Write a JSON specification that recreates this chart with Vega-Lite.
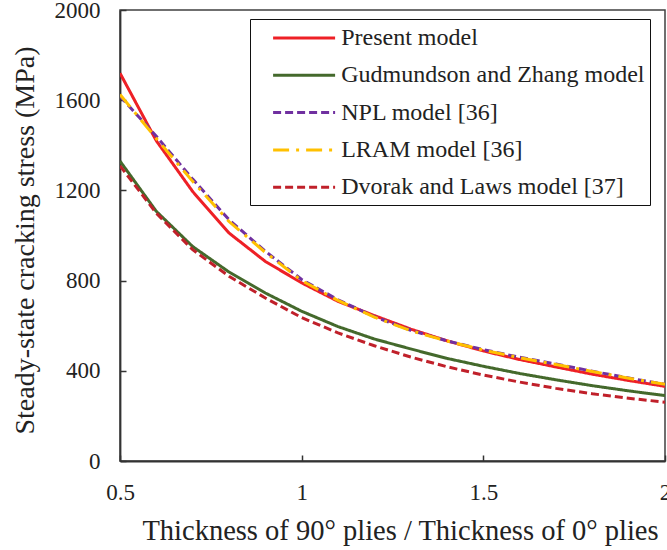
{
  "$schema": "https://vega.github.io/schema/vega-lite/v6.json",
  "width": 545,
  "height": 451,
  "autosize": {"type": "none"},
  "padding": {"left": 120, "top": 10, "right": 2, "bottom": 89},
  "background": "white",
  "config": {
    "font": "Liberation Serif",
    "view": {"stroke": "#404040", "strokeWidth": 1.5},
    "axis": {"grid": false, "domainColor": "#333333", "domainWidth": 1.8, "tickColor": "#333333", "tickWidth": 1.5, "labelColor": "#222222", "titleColor": "#222222", "labelFont": "Liberation Serif", "titleFont": "Liberation Serif", "titleFontWeight": "normal"}
  },
  "data": {
    "values": [
      {"x": 0.5, "y": 1720, "model": "Present model"},
      {"x": 0.6, "y": 1420, "model": "Present model"},
      {"x": 0.7, "y": 1195, "model": "Present model"},
      {"x": 0.8, "y": 1011, "model": "Present model"},
      {"x": 0.9, "y": 885, "model": "Present model"},
      {"x": 1.0, "y": 790, "model": "Present model"},
      {"x": 1.1, "y": 708, "model": "Present model"},
      {"x": 1.2, "y": 645, "model": "Present model"},
      {"x": 1.3, "y": 585, "model": "Present model"},
      {"x": 1.4, "y": 533, "model": "Present model"},
      {"x": 1.5, "y": 488, "model": "Present model"},
      {"x": 1.6, "y": 450, "model": "Present model"},
      {"x": 1.7, "y": 417, "model": "Present model"},
      {"x": 1.8, "y": 385, "model": "Present model"},
      {"x": 1.9, "y": 357, "model": "Present model"},
      {"x": 2.0, "y": 331, "model": "Present model"},

      {"x": 0.5, "y": 1330, "model": "Gudmundson and Zhang model"},
      {"x": 0.6, "y": 1107, "model": "Gudmundson and Zhang model"},
      {"x": 0.7, "y": 951, "model": "Gudmundson and Zhang model"},
      {"x": 0.8, "y": 838, "model": "Gudmundson and Zhang model"},
      {"x": 0.9, "y": 745, "model": "Gudmundson and Zhang model"},
      {"x": 1.0, "y": 664, "model": "Gudmundson and Zhang model"},
      {"x": 1.1, "y": 596, "model": "Gudmundson and Zhang model"},
      {"x": 1.2, "y": 541, "model": "Gudmundson and Zhang model"},
      {"x": 1.3, "y": 497, "model": "Gudmundson and Zhang model"},
      {"x": 1.4, "y": 455, "model": "Gudmundson and Zhang model"},
      {"x": 1.5, "y": 420, "model": "Gudmundson and Zhang model"},
      {"x": 1.6, "y": 388, "model": "Gudmundson and Zhang model"},
      {"x": 1.7, "y": 360, "model": "Gudmundson and Zhang model"},
      {"x": 1.8, "y": 334, "model": "Gudmundson and Zhang model"},
      {"x": 1.9, "y": 311, "model": "Gudmundson and Zhang model"},
      {"x": 2.0, "y": 290, "model": "Gudmundson and Zhang model"},

      {"x": 0.5, "y": 1618, "model": "NPL model [36]"},
      {"x": 0.6, "y": 1440, "model": "NPL model [36]"},
      {"x": 0.7, "y": 1250, "model": "NPL model [36]"},
      {"x": 0.8, "y": 1070, "model": "NPL model [36]"},
      {"x": 0.9, "y": 930, "model": "NPL model [36]"},
      {"x": 1.0, "y": 805, "model": "NPL model [36]"},
      {"x": 1.1, "y": 715, "model": "NPL model [36]"},
      {"x": 1.2, "y": 640, "model": "NPL model [36]"},
      {"x": 1.3, "y": 580, "model": "NPL model [36]"},
      {"x": 1.4, "y": 533, "model": "NPL model [36]"},
      {"x": 1.5, "y": 494, "model": "NPL model [36]"},
      {"x": 1.6, "y": 460, "model": "NPL model [36]"},
      {"x": 1.7, "y": 430, "model": "NPL model [36]"},
      {"x": 1.8, "y": 398, "model": "NPL model [36]"},
      {"x": 1.9, "y": 368, "model": "NPL model [36]"},
      {"x": 2.0, "y": 340, "model": "NPL model [36]"},

      {"x": 0.5, "y": 1625, "model": "LRAM model [36]"},
      {"x": 0.6, "y": 1430, "model": "LRAM model [36]"},
      {"x": 0.7, "y": 1240, "model": "LRAM model [36]"},
      {"x": 0.8, "y": 1062, "model": "LRAM model [36]"},
      {"x": 0.9, "y": 925, "model": "LRAM model [36]"},
      {"x": 1.0, "y": 800, "model": "LRAM model [36]"},
      {"x": 1.1, "y": 712, "model": "LRAM model [36]"},
      {"x": 1.2, "y": 638, "model": "LRAM model [36]"},
      {"x": 1.3, "y": 578, "model": "LRAM model [36]"},
      {"x": 1.4, "y": 532, "model": "LRAM model [36]"},
      {"x": 1.5, "y": 492, "model": "LRAM model [36]"},
      {"x": 1.6, "y": 458, "model": "LRAM model [36]"},
      {"x": 1.7, "y": 428, "model": "LRAM model [36]"},
      {"x": 1.8, "y": 397, "model": "LRAM model [36]"},
      {"x": 1.9, "y": 367, "model": "LRAM model [36]"},
      {"x": 2.0, "y": 340, "model": "LRAM model [36]"},

      {"x": 0.5, "y": 1309, "model": "Dvorak and Laws model [37]"},
      {"x": 0.6, "y": 1099, "model": "Dvorak and Laws model [37]"},
      {"x": 0.7, "y": 937, "model": "Dvorak and Laws model [37]"},
      {"x": 0.8, "y": 819, "model": "Dvorak and Laws model [37]"},
      {"x": 0.9, "y": 723, "model": "Dvorak and Laws model [37]"},
      {"x": 1.0, "y": 636, "model": "Dvorak and Laws model [37]"},
      {"x": 1.1, "y": 568, "model": "Dvorak and Laws model [37]"},
      {"x": 1.2, "y": 511, "model": "Dvorak and Laws model [37]"},
      {"x": 1.3, "y": 461, "model": "Dvorak and Laws model [37]"},
      {"x": 1.4, "y": 418, "model": "Dvorak and Laws model [37]"},
      {"x": 1.5, "y": 381, "model": "Dvorak and Laws model [37]"},
      {"x": 1.6, "y": 350, "model": "Dvorak and Laws model [37]"},
      {"x": 1.7, "y": 322, "model": "Dvorak and Laws model [37]"},
      {"x": 1.8, "y": 298, "model": "Dvorak and Laws model [37]"},
      {"x": 1.9, "y": 278, "model": "Dvorak and Laws model [37]"},
      {"x": 2.0, "y": 261, "model": "Dvorak and Laws model [37]"}
    ]
  },
  "mark": {"type": "line", "strokeWidth": 3, "clip": true},
  "encoding": {
    "x": {
      "field": "x", "type": "quantitative",
      "scale": {"domain": [0.5, 2], "nice": false, "zero": false},
      "axis": {
        "values": [0.5, 1, 1.5, 2], "format": "~g", "labelFlush": false,
        "title": "Thickness of 90° plies / Thickness of 0° plies",
        "tickSize": -6, "labelPadding": 26, "labelFontSize": 23,
        "titleFontSize": 28.5, "titleBaseline": "middle", "titleAlign": "center", "titleX": 280, "titleY": 69
      }
    },
    "y": {
      "field": "y", "type": "quantitative",
      "scale": {"domain": [0, 2000], "nice": false},
      "axis": {
        "values": [0, 400, 800, 1200, 1600, 2000], "format": "d", "labelFlush": false,
        "title": "Steady-state cracking stress (MPa)",
        "tickSize": -6, "labelPadding": 26, "labelFontSize": 23,
        "titleFontSize": 28, "titleAngle": -90, "titleAlign": "center",
        "titleBaseline": "middle", "titleX": -95, "titleY": 230
      }
    },
    "color": {
      "field": "model", "type": "nominal",
      "sort": ["Present model", "Gudmundson and Zhang model", "NPL model [36]", "LRAM model [36]", "Dvorak and Laws model [37]"],
      "scale": {
        "domain": ["Present model", "Gudmundson and Zhang model", "NPL model [36]", "LRAM model [36]", "Dvorak and Laws model [37]"],
        "range": ["#EE2026", "#44692C", "#7030A0", "#FFC000", "#C0202A"]
      },
      "legend": {
        "title": null, "orient": "none", "legendX": 130, "legendY": 9,
        "padding": 5, "strokeColor": "#111111",
        "symbolType": "M-1,0H4", "symbolSize": 615, "symbolStrokeWidth": 3,
        "symbolOffset": 16.5, "labelOffset": 41.7, "labelFontSize": 24,
        "labelColor": "#222222", "labelFont": "Liberation Serif",
        "rowPadding": 11.3, "labelLimit": 400
      }
    },
    "strokeDash": {
      "field": "model", "type": "nominal",
      "sort": ["Present model", "Gudmundson and Zhang model", "NPL model [36]", "LRAM model [36]", "Dvorak and Laws model [37]"],
      "scale": {
        "domain": ["Present model", "Gudmundson and Zhang model", "NPL model [36]", "LRAM model [36]", "Dvorak and Laws model [37]"],
        "range": [[1, 0], [1, 0], [8, 4], [16, 7, 3, 7], [8, 4]]
      },
      "legend": {
        "title": null, "orient": "none", "legendX": 130, "legendY": 9,
        "padding": 5, "strokeColor": "#111111",
        "symbolType": "M-1,0H4", "symbolSize": 615, "symbolStrokeWidth": 3,
        "symbolOffset": 16.5, "labelOffset": 41.7, "labelFontSize": 24,
        "labelColor": "#222222", "labelFont": "Liberation Serif",
        "rowPadding": 11.3, "labelLimit": 400
      }
    }
  }
}
